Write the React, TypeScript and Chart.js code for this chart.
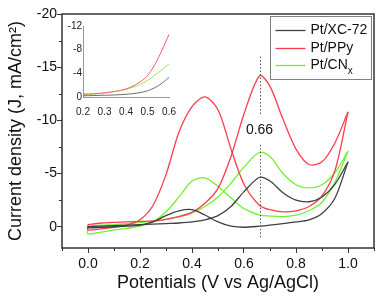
import React, { useEffect, useRef } from 'react';
import { Chart, registerables } from 'chart.js';

Chart.register(...registerables);

// ---------- data ----------
const seriesNames = ['Pt/XC-72', 'Pt/PPy', 'Pt/CN'];
const seriesSubscripts = ['', '', 'x'];
const seriesColors = ['#404040', '#ff3b4e', '#73f032'];
const insetColors = ['#6e6e6e', '#ff5c70', '#98ee48'];

const potentialFwd = [0.0, 0.05, 0.1, 0.15, 0.2, 0.25, 0.3, 0.35, 0.4, 0.45, 0.5, 0.55, 0.6, 0.66, 0.7, 0.75, 0.8, 0.85, 0.9, 0.95, 1.0];
const potentialRev = [1.0, 0.95, 0.9, 0.85, 0.8, 0.75, 0.7, 0.66, 0.6, 0.55, 0.5, 0.45, 0.4, 0.35, 0.3, 0.25, 0.2, 0.15, 0.1, 0.05, 0.0];

// current density, forward scan (0 -> 1.0 V)
const xc72Fwd = [0.0, -0.05, -0.1, -0.15, -0.2, -0.25, -0.3, -0.35, -0.45, -0.65, -1.05, -1.9, -3.3, -4.65, -4.3, -3.2, -2.5, -2.35, -2.8, -4.0, -6.1];
const ppyFwd = [-0.2, -0.35, -0.4, -0.45, -0.5, -0.55, -0.7, -0.95, -1.35, -2.2, -3.6, -6.6, -10.6, -14.2, -13.2, -10.1, -7.3, -5.85, -6.1, -7.9, -10.8];
const cnxFwd = [-0.05, -0.15, -0.2, -0.3, -0.4, -0.5, -0.7, -0.95, -1.3, -1.9, -2.8, -4.1, -5.6, -7.0, -6.6, -5.0, -3.95, -3.65, -3.95, -5.1, -7.1];

// current density, reverse scan (1.0 -> 0 V)
const xc72Rev = [-6.1, -2.7, -1.25, -0.65, -0.45, -0.3, -0.15, -0.05, 0.05, -0.05, -0.45, -1.1, -1.6, -1.5, -1.05, -0.45, -0.15, -0.05, 0.0, 0.05, 0.1];
const ppyRev = [-10.8, -5.3, -2.9, -1.9, -1.5, -1.4, -1.6, -2.0, -4.0, -7.3, -11.0, -12.2, -11.3, -8.9, -4.9, -2.0, -0.65, -0.15, 0.05, 0.2, 0.3];
const cnxRev = [-7.1, -4.2, -2.3, -1.5, -1.1, -0.95, -1.0, -1.1, -1.7, -2.7, -3.8, -4.6, -4.3, -2.8, -1.4, -0.45, -0.05, 0.15, 0.3, 0.5, 0.66];

const fwdSeries = [xc72Fwd, ppyFwd, cnxFwd];
const revSeries = [xc72Rev, ppyRev, cnxRev];

// axes
const xTickValues = [0.0, 0.2, 0.4, 0.6, 0.8, 1.0];
const xMinorTicks = [-0.1, 0.1, 0.3, 0.5, 0.7, 0.9, 1.1];
const yTickValues = [-20, -15, -10, -5, 0];
const yMinorTicks = [-17.5, -12.5, -7.5, -2.5];
const xTitle = 'Potentials (V vs Ag/AgCl)';
const yTitle = 'Current density (J, mA/cm\u00B2)';

// inset
const insetXTicks = [0.2, 0.3, 0.4, 0.5, 0.6];
const insetYTicks = [-12, -8, -4, 0];

// annotation
const peakPotential = 0.66;
const peakLineTop = -16;
const peakGapTop = -10.4;
const peakGapBottom = -7.7;
const peakLineBottom = 1.0;
const peakLabelY = -9.1;

const FONT = '"Liberation Sans", Arial, Helvetica, sans-serif';

function mainDatasets() {
  const ds: any[] = [];
  fwdSeries.forEach((fwd, i) => {
    ds.push({
      label: seriesNames[i] + seriesSubscripts[i],
      data: potentialFwd.map((x, k) => ({ x, y: fwd[k] })),
      borderColor: seriesColors[i],
      borderWidth: 1.3,
      pointRadius: 0,
      tension: 0.3,
      fill: false,
    });
    const rev = revSeries[i];
    const revData = potentialRev.map((x, k) => ({ x, y: rev[k] }));
    revData.push({ x: potentialFwd[0], y: fwd[0] });
    ds.push({
      label: seriesNames[i] + seriesSubscripts[i] + ' rev',
      data: revData,
      borderColor: seriesColors[i],
      borderWidth: 1.3,
      pointRadius: 0,
      tension: 0.3,
      fill: false,
    });
  });
  return ds;
}

function insetDatasets() {
  return fwdSeries.map((fwd, i) => ({
    label: seriesNames[i],
    data: potentialFwd
      .map((x, k) => ({ x, y: fwd[k] }))
      .filter((p) => p.x >= insetXTicks[0] - 1e-9 && p.x <= insetXTicks[insetXTicks.length - 1] + 1e-9),
    borderColor: insetColors[i],
    borderWidth: 1,
    pointRadius: 0,
    tension: 0.3,
    fill: false,
  }));
}

const decorPlugin = {
  id: 'cvDecor',
  afterDraw(chart: any) {
    const { ctx, chartArea: a, scales } = chart;
    const xs = scales.x;
    const ys = scales.y;
    const line = (x1: number, y1: number, x2: number, y2: number) => {
      ctx.beginPath();
      ctx.moveTo(x1, y1);
      ctx.lineTo(x2, y2);
      ctx.stroke();
    };
    ctx.save();
    // frame
    ctx.strokeStyle = '#333';
    ctx.lineWidth = 1.5;
    ctx.strokeRect(a.left, a.top, a.right - a.left, a.bottom - a.top);
    // minor ticks
    ctx.lineWidth = 1;
    xMinorTicks.forEach((v) => {
      const px = Math.round(xs.getPixelForValue(v)) + 0.5;
      line(px, a.bottom, px, a.bottom + 3);
    });
    yMinorTicks.forEach((v) => {
      const py = Math.round(ys.getPixelForValue(v)) + 0.5;
      line(a.left - 3, py, a.left, py);
    });
    // peak marker
    const px = Math.round(xs.getPixelForValue(peakPotential)) + 0.5;
    ctx.strokeStyle = '#555';
    ctx.setLineDash([1.5, 2]);
    line(px, ys.getPixelForValue(peakLineTop), px, ys.getPixelForValue(peakGapTop));
    line(px, ys.getPixelForValue(peakGapBottom), px, ys.getPixelForValue(peakLineBottom));
    ctx.setLineDash([]);
    ctx.fillStyle = '#111';
    ctx.font = '14px ' + FONT;
    ctx.textAlign = 'center';
    ctx.textBaseline = 'middle';
    ctx.fillText(peakPotential.toFixed(2), px - 1, ys.getPixelForValue(peakLabelY));

    // legend
    const lx = a.right - 103.5;
    const ly = a.top + 2.5;
    const lw = 101;
    const lh = 63;
    ctx.strokeStyle = '#808080';
    ctx.lineWidth = 1;
    ctx.strokeRect(lx, ly, lw, lh);
    const rowY = [ly + 14, ly + 32, ly + 49];
    seriesNames.forEach((name, i) => {
      ctx.strokeStyle = seriesColors[i];
      ctx.lineWidth = 1.3;
      line(lx + 5, rowY[i], lx + 35, rowY[i]);
      ctx.fillStyle = '#111';
      ctx.textAlign = 'left';
      ctx.textBaseline = 'middle';
      ctx.font = '14px ' + FONT;
      ctx.fillText(name, lx + 40, rowY[i]);
      if (seriesSubscripts[i]) {
        const w = ctx.measureText(name).width;
        ctx.font = '10px ' + FONT;
        ctx.fillText(seriesSubscripts[i], lx + 40 + w, rowY[i] + 6);
      }
    });
    ctx.restore();
  },
};

export default function App() {
  const mainRef = useRef<HTMLCanvasElement>(null);
  const insetRef = useRef<HTMLCanvasElement>(null);

  useEffect(() => {
    document.body.style.margin = '0';
    const main = new Chart(mainRef.current as HTMLCanvasElement, {
      type: 'line',
      data: { datasets: mainDatasets() },
      options: {
        animation: false,
        responsive: false,
        devicePixelRatio: 1,
        layout: { padding: { top: 14, right: 4, left: 0, bottom: 0 } },
        plugins: { legend: { display: false }, tooltip: { enabled: false } },
        scales: {
          x: {
            type: 'linear',
            min: -0.1,
            max: 1.1,
            afterBuildTicks: (s: any) => {
              s.ticks = xTickValues.map((v) => ({ value: v }));
            },
            afterFit: (s: any) => {
              s.height = 55;
            },
            grid: { display: true, drawOnChartArea: false, drawTicks: true, tickLength: 5, color: '#333', lineWidth: 1 },
            border: { display: false },
            ticks: {
              font: { family: FONT, size: 14 },
              color: '#111',
              padding: 3,
              maxRotation: 0,
              autoSkip: false,
              callback: (v: any) => Number(v).toFixed(1),
            },
            title: {
              display: true,
              text: xTitle,
              font: { family: FONT, size: 18 },
              color: '#111',
              padding: { top: 0, bottom: 9 },
            },
          },
          y: {
            type: 'linear',
            reverse: true,
            min: -20,
            max: 2,
            afterBuildTicks: (s: any) => {
              s.ticks = yTickValues.map((v) => ({ value: v }));
            },
            afterFit: (s: any) => {
              s.width = 62;
            },
            grid: { display: true, drawOnChartArea: false, drawTicks: true, tickLength: 5, color: '#333', lineWidth: 1 },
            border: { display: false },
            ticks: {
              font: { family: FONT, size: 14 },
              color: '#111',
              padding: 0,
              autoSkip: false,
              callback: (v: any) => String(v),
            },
            title: {
              display: true,
              text: yTitle,
              font: { family: FONT, size: 18 },
              color: '#111',
              padding: { top: 5, bottom: 0 },
            },
          },
        },
      },
      plugins: [decorPlugin],
    } as any);

    const inset = new Chart(insetRef.current as HTMLCanvasElement, {
      type: 'line',
      data: { datasets: insetDatasets() },
      options: {
        animation: false,
        responsive: false,
        devicePixelRatio: 1,
        layout: { padding: { top: 12, right: 12, left: 0, bottom: 0 } },
        plugins: { legend: { display: false }, tooltip: { enabled: false } },
        scales: {
          x: {
            type: 'linear',
            min: insetXTicks[0],
            max: insetXTicks[insetXTicks.length - 1],
            afterBuildTicks: (s: any) => {
              s.ticks = insetXTicks.map((v) => ({ value: v }));
            },
            afterFit: (s: any) => {
              s.height = 25;
            },
            grid: { display: true, drawOnChartArea: false, drawTicks: false },
            border: { display: true, color: '#999', width: 1 },
            ticks: {
              font: { family: FONT, size: 10 },
              color: '#222',
              padding: 9,
              maxRotation: 0,
              autoSkip: false,
              callback: (v: any) => Number(v).toFixed(1),
            },
          },
          y: {
            type: 'linear',
            reverse: true,
            min: insetYTicks[0],
            max: insetYTicks[insetYTicks.length - 1],
            afterBuildTicks: (s: any) => {
              s.ticks = insetYTicks.map((v) => ({ value: v }));
            },
            afterFit: (s: any) => {
              s.width = 23;
            },
            grid: { display: true, drawOnChartArea: false, drawTicks: false },
            border: { display: true, color: '#999', width: 1 },
            ticks: {
              font: { family: FONT, size: 10 },
              color: '#222',
              padding: 1,
              autoSkip: false,
              callback: (v: any) => String(v),
            },
          },
        },
      },
    } as any);

    return () => {
      main.destroy();
      inset.destroy();
    };
  }, []);

  return (
    <div style={{ position: 'relative', width: 378, height: 303, background: '#fff' }}>
      <canvas ref={mainRef} width={378} height={303} style={{ position: 'absolute', left: 0, top: 0 }} />
      <canvas ref={insetRef} width={125} height={108} style={{ position: 'absolute', left: 60, top: 14 }} />
    </div>
  );
}
